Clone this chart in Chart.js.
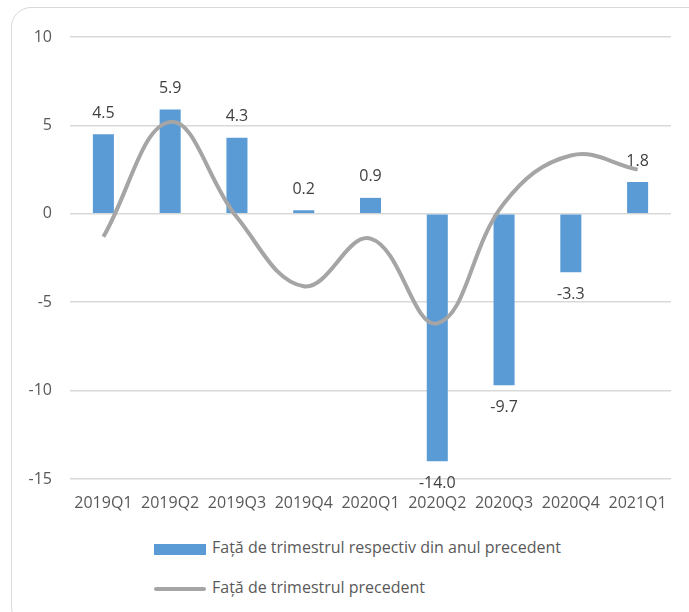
<!DOCTYPE html>
<html>
<head>
<meta charset="utf-8">
<script src="https://cdn.jsdelivr.net/npm/chart.js@4"></script>
<style>
  html, body { margin: 0; padding: 0; background: #fff; overflow: hidden; }
  body { width: 689px; height: 612px; position: relative; font-family: "Open Sans", sans-serif; }
  #frame { position: absolute; left: 11px; top: 7px; width: 720px; height: 620px;
           border: 1.5px solid #d9d9d9; border-radius: 20px; box-sizing: border-box; }
  #wrap { position: absolute; left: 0; top: 0; width: 689px; height: 520px; }
  .leg { position: absolute; left: 154px; font-size: 16px; color: #595959; white-space: nowrap; }
  .leg span.mark { position: absolute; left: 0; }
  .leg span.txt { position: absolute; left: 58px; top: -2px; }
</style>
</head>
<body>
<div id="frame"></div>
<div id="wrap"><canvas id="chart"></canvas></div>
<div id="legend"></div>
<script>
const categories = ['2019Q1', '2019Q2', '2019Q3', '2019Q4', '2020Q1', '2020Q2', '2020Q3', '2020Q4', '2021Q1'];
const yearOnYear = [4.5, 5.9, 4.3, 0.2, 0.9, -14.0, -9.7, -3.3, 1.8];
const quarterOnQuarter = [-1.3, 5.2, -0.2, -4.1, -1.4, -6.2, 0.6, 3.3, 2.5];
const seriesNames = ['Față de trimestrul respectiv din anul precedent', 'Față de trimestrul precedent'];
const yTicks = [-15, -10, -5, 0, 5, 10];

const barColor = '#5b9bd5';
const lineColor = '#a5a5a5';
const fontSize = 16;

// value labels above/below the bars
const barLabels = {
  id: 'barLabels',
  afterDatasetsDraw(chart) {
    const meta = chart.getDatasetMeta(1);
    const ctx = chart.ctx;
    ctx.save();
    ctx.font = fontSize + 'px "Open Sans"';
    ctx.fillStyle = '#404040';
    ctx.textAlign = 'center';
    ctx.textBaseline = 'middle';
    meta.data.forEach((bar, i) => {
      const v = yearOnYear[i];
      const y = v >= 0 ? bar.y - 21 : bar.y + 22;
      ctx.fillText(v.toFixed(1), bar.x, y);
    });
    ctx.restore();
  }
};

new Chart(document.getElementById('chart').getContext('2d'), {
  type: 'bar',
  data: {
    labels: categories,
    datasets: [{
      type: 'line',
      label: seriesNames[1],
      data: quarterOnQuarter,
      borderColor: lineColor,
      borderWidth: 4,
      pointRadius: 0,
      tension: 0.4,
      order: 0
    }, {
      type: 'bar',
      label: seriesNames[0],
      data: yearOnYear,
      backgroundColor: barColor,
      categoryPercentage: 1,
      barPercentage: 0.315,
      order: 1
    }]
  },
  options: {
    responsive: true,
    maintainAspectRatio: false,
    animation: false,
    layout: { padding: { left: 0, right: 18, top: 37, bottom: 0 } },
    plugins: {
      legend: { display: false },
      tooltip: { enabled: false }
    },
    scales: {
      x: {
        grid: { display: false, drawTicks: false },
        border: { display: false },
        ticks: { color: '#595959', font: { family: 'Open Sans', size: fontSize }, padding: 15, maxRotation: 0 },
        afterFit: s => { s.height = 41; }
      },
      y: {
        min: -15,
        max: 10,
        afterBuildTicks: s => { s.ticks = yTicks.map(v => ({ value: v })); },
        grid: { color: '#d9d9d9', lineWidth: 1.5, drawTicks: false },
        border: { display: false },
        ticks: { color: '#595959', font: { family: 'Open Sans', size: fontSize }, padding: 18 },
        afterFit: s => { s.width = 70; }
      }
    }
  },
  plugins: [barLabels]
});

// legend, two rows left-aligned
const legend = document.getElementById('legend');
[[seriesNames[0], 'box'], [seriesNames[1], 'line']].forEach(([name, kind], i) => {
  const row = document.createElement('div');
  row.className = 'leg';
  row.style.top = (538 + i * 40) + 'px';
  const mark = document.createElement('span');
  mark.className = 'mark';
  if (kind === 'box') {
    mark.style.cssText = 'top:6px;width:52px;height:11px;background:' + barColor;
  } else {
    mark.style.cssText = 'top:9px;width:52px;height:4px;border-radius:2px;background:' + lineColor;
  }
  const txt = document.createElement('span');
  txt.className = 'txt';
  txt.textContent = name;
  row.appendChild(mark);
  row.appendChild(txt);
  legend.appendChild(row);
});
</script>
</body>
</html>
